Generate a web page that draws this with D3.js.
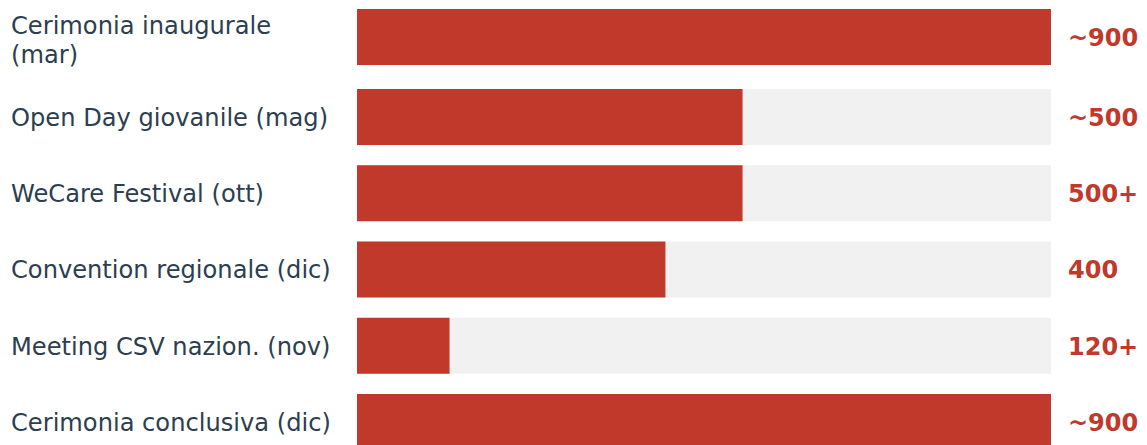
<!DOCTYPE html>
<html>
<head>
<meta charset="utf-8">
<script src="https://cdn.jsdelivr.net/npm/d3@7"></script>
<style>
  html, body { margin: 0; padding: 0; background: #ffffff; }
  svg { display: block; }
</style>
</head>
<body>
<div id="chart"></div>
<script>
// Partecipanti per evento
const events = [
  "Cerimonia inaugurale (mar)",
  "Open Day giovanile (mag)",
  "WeCare Festival (ott)",
  "Convention regionale (dic)",
  "Meeting CSV nazion. (nov)",
  "Cerimonia conclusiva (dic)"
];
const participants = [900, 500, 500, 400, 120, 900];
const valueLabels = ["~900", "~500", "500+", "400", "120+", "~900"];
const maxParticipants = 900;

const W = 1147, H = 445;
const FONT = "'DejaVu Sans', Verdana, sans-serif";
const RED = "#c0392b", TRACK = "#f1f1f1", INK = "#2c3e50";

const labelX = 11, labelMaxW = 330, labelSize = 24.15, lineH = 29;
const trackX0 = 357, trackX1 = 1051, valueX = 1068;
const barH = 56, gap = 20.25, topPad = 5.25;

const svg = d3.select("#chart").append("svg")
  .attr("width", W).attr("height", H);

// wrap labels to the label column width
const measure = svg.append("text").attr("font-family", FONT).attr("font-size", labelSize);
function wrap(str) {
  const words = str.split(" ");
  const lines = [];
  let cur = "";
  for (const w of words) {
    const test = cur ? cur + " " + w : w;
    measure.text(test);
    if (cur && measure.node().getComputedTextLength() > labelMaxW) {
      lines.push(cur); cur = w;
    } else cur = test;
  }
  lines.push(cur);
  return lines;
}
const wrapped = events.map(wrap);
measure.remove();

// row layout: taller row where the label spans several lines
const rows = [];
let y = topPad;
wrapped.forEach((lines, i) => {
  const h = Math.max(barH, lines.length > 1 ? lines.length * lineH + 5.5 : barH);
  rows.push({ name: events[i], lines, value: participants[i], label: valueLabels[i], top: y, h, center: y + h / 2 });
  y += h + gap;
});

const x = d3.scaleLinear().domain([0, maxParticipants]).range([trackX0, trackX1]);

const g = svg.selectAll("g.row").data(rows).join("g").attr("class", "row");

g.append("rect")
  .attr("x", x(0)).attr("y", d => d.center - barH / 2)
  .attr("width", x(maxParticipants) - x(0)).attr("height", barH)
  .attr("fill", TRACK);

g.append("rect")
  .attr("x", x(0)).attr("y", d => d.center - barH / 2)
  .attr("width", d => x(d.value) - x(0)).attr("height", barH)
  .attr("fill", RED);

const capHalf = 0.729 * labelSize / 2;
g.each(function (d) {
  const n = d.lines.length;
  const nudge = n > 1 ? 3 : 0;
  const t = d3.select(this).append("text")
    .attr("font-family", FONT).attr("font-size", labelSize).attr("fill", INK);
  d.lines.forEach((ln, i) => {
    t.append("tspan")
      .attr("x", labelX)
      .attr("y", d.center + capHalf + (i - (n - 1) / 2) * lineH + nudge)
      .text(ln);
  });
});

g.append("text")
  .attr("x", valueX).attr("y", d => d.center + capHalf)
  .attr("font-family", FONT).attr("font-size", 24).attr("font-weight", "bold")
  .attr("fill", RED)
  .text(d => d.label);
</script>
</body>
</html>
